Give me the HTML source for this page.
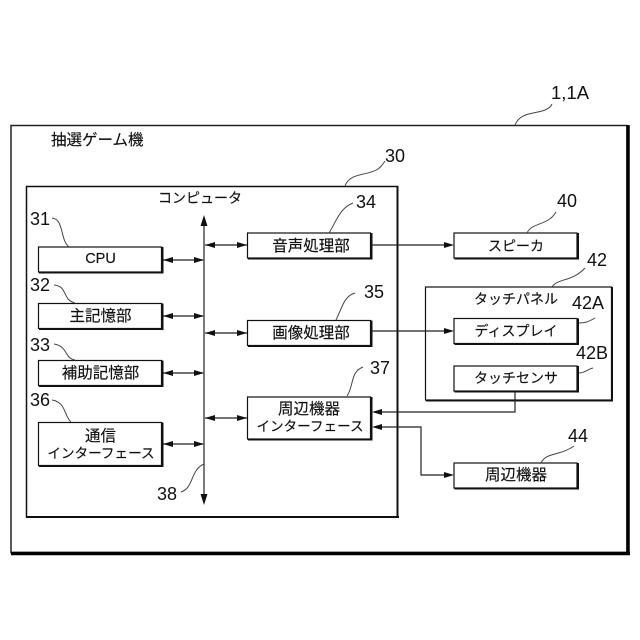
<!DOCTYPE html>
<html><head><meta charset="utf-8"><style>
html,body{margin:0;padding:0;background:#fff}
svg{display:block}
text{font-family:"Liberation Sans","Noto Sans CJK JP",sans-serif;fill:#111}
.n{font-size:18px}
.t{font-size:15.500px;text-anchor:middle;stroke:#111;stroke-width:.15}
.k{font-size:14px;text-anchor:middle;stroke:#111;stroke-width:.15}
.b{fill:#fff;stroke:#111;stroke-width:1.200}
.s{fill:none;stroke:#111;stroke-width:2}
.l{fill:none;stroke:#222;stroke-width:1.200}
.c{fill:none;stroke:#444;stroke-width:1}
.a{fill:#111;stroke:none}
</style></head><body>
<svg width="640" height="640" viewBox="0 0 640 640" xmlns="http://www.w3.org/2000/svg">
<defs>
<path id="r" class="a" d="M0,0 L-10,-3 L-10,3 Z"/>
<path id="le" class="a" d="M0,0 L10,-3 L10,3 Z"/>
</defs>
<rect x="0" y="0" width="640" height="640" fill="#fff"/>

<!-- outer -->
<rect x="11" y="125.500" width="616" height="427" fill="#fff" stroke="#222" stroke-width="1.500"/>
<path d="M628,125 V555 M11,553.500 H630" fill="none" stroke="#000" stroke-width="3.500"/>
<text x="51" y="145" class="t" style="text-anchor:start">抽選ゲーム機</text>
<text x="551" y="99" style="font-size:18.500px">1,1A</text>
<path class="c" d="M515,125 C520,112 535,114 545,110 C550,108 551,106 552,104"/>

<!-- computer -->
<rect x="26.500" y="186.500" width="371" height="330.500" fill="#fff" stroke="#111" stroke-width="1.500"/>
<path d="M397.500,186 V518 M26,517 H399" fill="none" stroke="#111" stroke-width="2"/>
<text x="200" y="203" class="k">コンピュータ</text>
<text x="385" y="162" class="n">30</text>
<path class="c" d="M345,186 C350,172 368,176 378,169 C382,166 383,164 385,161"/>

<!-- bus -->
<path class="l" d="M204,220 V500"/>
<path class="a" d="M204,215 L200.500,226 L207.500,226 Z M204,505 L200.500,494 L207.500,494 Z"/>

<!-- left arrows -->
<g>
<path class="l" d="M163,260 H203 M163,316 H203 M163,373 H203 M163,444 H203"/>
<use href="#le" x="163" y="260"/><use href="#r" x="204" y="260"/>
<use href="#le" x="163" y="316"/><use href="#r" x="204" y="316"/>
<use href="#le" x="163" y="373"/><use href="#r" x="204" y="373"/>
<use href="#le" x="163" y="444"/><use href="#r" x="204" y="444"/>
</g>
<!-- right arrows -->
<g>
<path class="l" d="M205,245 H247 M205,333 H247 M205,418 H247"/>
<use href="#le" x="205" y="245"/><use href="#r" x="247" y="245"/>
<use href="#le" x="205" y="333"/><use href="#r" x="247" y="333"/>
<use href="#le" x="205" y="418"/><use href="#r" x="247" y="418"/>
</g>

<!-- left boxes -->
<rect class="b" x="38.500" y="247" width="123" height="25"/>
<path class="s" d="M39,272.500 H162.500 V247"/>
<text x="100.500" y="263" class="t" style="font-size:14.500px">CPU</text>
<text x="30" y="225" class="n">31</text>
<path class="c" d="M52,218 C64,219 60,240 69,247"/>

<rect class="b" x="38.500" y="303.500" width="123" height="25"/>
<path class="s" d="M39,329 H162.500 V303.500"/>
<text x="100.500" y="321" class="t">主記憶部</text>
<text x="30" y="291" class="n">32</text>
<path class="c" d="M54,285 C68,286 62,300 75,303"/>

<rect class="b" x="38.500" y="360.500" width="123" height="25"/>
<path class="s" d="M39,386 H162.500 V360.500"/>
<text x="100.500" y="378" class="t">補助記憶部</text>
<text x="30" y="351" class="n">33</text>
<path class="c" d="M54,344 C68,346 64,358 75,360"/>

<rect class="b" x="38.500" y="422.500" width="123" height="43"/>
<path class="s" d="M39,466 H162.500 V422.500"/>
<text x="100.500" y="441" class="t">通信</text>
<text x="101" y="458" class="k" style="font-size:13.600px">インターフェース</text>
<text x="30" y="406" class="n">36</text>
<path class="c" d="M52,400 C66,402 64,416 71,422"/>

<text x="157" y="500" class="n">38</text>
<path class="c" d="M181,492 C194,488 190,470 204,464"/>

<!-- mid boxes -->
<rect class="b" x="247.500" y="233" width="123" height="25"/>
<path class="s" d="M248,258.500 H371.500 V233"/>
<text x="311" y="251" class="t">音声処理部</text>
<text x="356" y="208" class="n">34</text>
<path class="c" d="M329,233 C337,220 340,208 353,203"/>

<rect class="b" x="247.500" y="320.500" width="123" height="25"/>
<path class="s" d="M248,346 H371.500 V320.500"/>
<text x="311" y="338" class="t">画像処理部</text>
<text x="364" y="298" class="n">35</text>
<path class="c" d="M336,320 C342,308 344,296 355,293"/>

<rect class="b" x="247.500" y="397" width="123" height="42"/>
<path class="s" d="M248,439.500 H371.500 V397"/>
<text x="309" y="414" class="t">周辺機器</text>
<text x="310" y="431" class="k" style="font-size:13.600px">インターフェース</text>
<text x="370" y="374" class="n">37</text>
<path class="c" d="M347,396 C354,386 350,372 363,367"/>

<!-- right boxes -->
<rect class="b" x="454" y="233" width="123" height="25"/>
<path class="s" d="M454.500,258.500 H578 V233"/>
<text x="516" y="251" class="k">スピーカ</text>
<text x="557" y="207" class="n">40</text>
<path class="c" d="M527,233 C532,222 548,226 556,212"/>

<rect x="425.500" y="287" width="186" height="113" fill="#fff" stroke="#111" stroke-width="1.200"/>
<path class="s" d="M426,400.500 H612 V287"/>
<text x="516" y="304" class="k">タッチパネル</text>
<text x="587" y="266" class="n">42</text>
<path class="c" d="M552,287 C558,278 572,282 585,268"/>
<text x="572" y="309" class="n">42A</text>
<path class="c" d="M579,323 C585,323 588,322 595,318"/>

<rect class="b" x="454" y="318.500" width="123" height="25"/>
<path class="s" d="M454.500,344 H578 V318.500"/>
<text x="516" y="336" class="k">ディスプレイ</text>

<text x="576" y="359" class="n">42B</text>
<rect class="b" x="454" y="366" width="123" height="25"/>
<path class="s" d="M454.500,391.500 H578 V366"/>
<text x="516" y="383" class="k">タッチセンサ</text>
<path class="c" d="M579,373 C585,373 588,369 593,368"/>

<rect class="b" x="454" y="463" width="123" height="25"/>
<path class="s" d="M454.500,488.500 H578 V463"/>
<text x="516" y="480" class="t">周辺機器</text>
<text x="568" y="442" class="n">44</text>
<path class="c" d="M541,463 C546,452 560,456 574,446"/>

<!-- connectors crossing -->
<path class="l" d="M372,245 H445 M372,331 H445"/>
<use href="#r" x="454" y="245"/><use href="#r" x="454" y="331"/>
<path class="l" d="M515,392 V412 H380"/>
<use href="#le" x="372" y="412"/>
<path class="l" d="M380,427 H421 V475 H445"/>
<use href="#le" x="372" y="427"/><use href="#r" x="454" y="475"/>
</svg>
</body></html>
